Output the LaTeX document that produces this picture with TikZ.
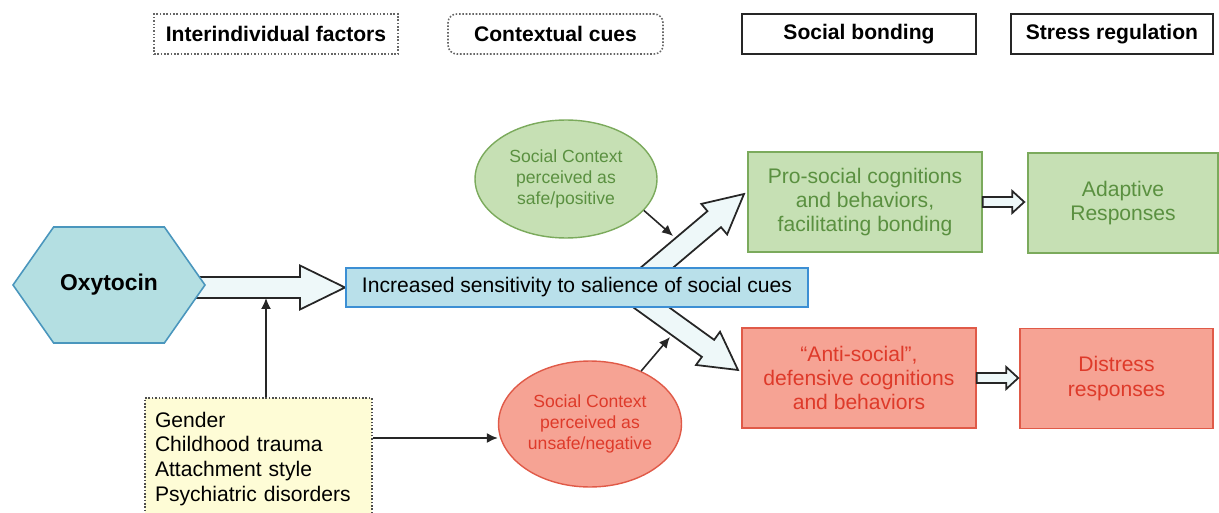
\documentclass[tikz,border=0pt]{standalone}
\usepackage{fontspec}
\setmainfont{Liberation Sans}
\usepackage{tikz}
\usetikzlibrary{positioning, calc, backgrounds, shapes.symbols, shapes.geometric, arrows.meta}

\definecolor{oxyfill}{HTML}{B4DFE2}
\definecolor{oxyline}{HTML}{4A96BD}
\definecolor{cuefill}{HTML}{B9E0EA}
\definecolor{cueline}{HTML}{3C8FD4}
\definecolor{goodfill}{HTML}{C6E0B4}
\definecolor{goodline}{HTML}{7BAA5C}
\definecolor{goodtext}{HTML}{5A9040}
\definecolor{badfill}{HTML}{F6A394}
\definecolor{badline}{HTML}{E05A48}
\definecolor{badtext}{HTML}{DE3A2A}
\definecolor{factfill}{HTML}{FEFCD6}
\definecolor{fatfill}{HTML}{EEF8F9}

\begin{document}
\begin{tikzpicture}[x=0.02cm, y=-0.02cm]
        % Setup the styles
        \tikzset{head style/.style={draw=black!85,
                                    line width=0.9pt,
                                    fill=white,
                                    minimum height=0.8cm,
                                    font=\fontsize{12}{14}\selectfont\bfseries}}
        \tikzset{head style2/.style={head style,
                                    draw=black!60,
                                    densely dotted}}
        \tikzset{box style/.style={draw=goodline,
                                    line width=0.9pt,
                                    fill=goodfill,
                                    text=goodtext,
                                    align=center,
                                    minimum height=2cm,
                                    font=\fontsize{12}{13.9}\selectfont}}
        \tikzset{box style2/.style={box style,
                                    draw=badline,
                                    fill=badfill,
                                    text=badtext}}
        \tikzset{ellipse style/.style={ellipse,
                                    draw=goodline,
                                    line width=0.8pt,
                                    fill=goodfill,
                                    text=goodtext,
                                    align=center,
                                    inner sep=0pt,
                                    font=\fontsize{10}{12.2}\selectfont}}
        \tikzset{ellipse style2/.style={ellipse style,
                                    draw=badline,
                                    fill=badfill,
                                    text=badtext}}
        \tikzset{link/.style={draw=black!85,
                                    line width=0.9pt,
                                    -{Latex[length=2.2mm, width=2mm]}}}
        \tikzset{fat arrow/.style n args={3}{draw=black!85,
                                    line width=1pt,
                                    line join=miter,
                                    fill=fatfill,
                                    to path={($(\tikztostart)!#1!90:(\tikztotarget)$)
                                    -- ($($(\tikztotarget)!#3!(\tikztostart)$)!#1!-90:(\tikztostart)$)
                                    -- ($($(\tikztotarget)!#3!(\tikztostart)$)!#2!-90:(\tikztostart)$)
                                    -- (\tikztotarget)
                                    -- ($($(\tikztotarget)!#3!(\tikztostart)$)!#2!90:(\tikztostart)$)
                                    -- ($($(\tikztotarget)!#3!(\tikztostart)$)!#1!90:(\tikztostart)$)
                                    -- ($(\tikztostart)!#1!-90:(\tikztotarget)$) -- cycle}}}

        \path[use as bounding box, clip] (0,0) rectangle (1219,513);

        % Draw the column headers
        \node[head style2, minimum width=4.88cm] at (276,34)    (hfactors) {Interindividual factors};
        \node[head style2, minimum width=4.3cm, rounded corners=5pt] at (555.5,34) (hcues) {Contextual cues};
        \node[head style, minimum width=4.68cm] at (859,34)     (hbond)    {Social bonding};
        \node[head style, minimum width=4.04cm] at (1112,34)    (hstress)  {Stress regulation};

        % Draw the states
        \node[signal, signal to=west and east, signal pointer angle=110,
              draw=oxyline, line width=0.9pt, fill=oxyfill,
              minimum width=3.84cm, minimum height=2.32cm,
              font=\fontsize{13}{15}\selectfont\bfseries] at (109,285) (oxy) {Oxytocin};
        \node[draw=cueline, line width=1.2pt, fill=cuefill,
              minimum width=9.24cm, minimum height=0.78cm,
              font=\fontsize{12}{14}\selectfont] at (577,287.5) (sens)
              {Increased sensitivity to salience of social cues};
        \node[draw=black!70, densely dotted, line width=0.9pt, fill=factfill,
              minimum width=4.54cm, minimum height=2.44cm,
              text width=4.14cm, align=left, inner xsep=0.2cm,
              font=\fontsize{12}{14.2}\selectfont] at (258.5,459) (factors)
              {Gender\\Childhood trauma\\Attachment style\\Psychiatric disorders};
        \node[ellipse style, minimum width=3.64cm, minimum height=2.36cm] at (566,179) (safe)
              {Social Context\\perceived as\\safe/positive};
        \node[ellipse style2, minimum width=3.66cm, minimum height=2.52cm] at (590,424) (unsafe)
              {Social Context\\perceived as\\unsafe/negative};
        \node[box style, minimum width=4.68cm] at (865,202)  (pro)   {Pro-social cognitions\\and behaviors,\\facilitating bonding};
        \node[box style, minimum width=3.8cm]  at (1123,203) (adapt) {Adaptive\\Responses};
        \node[box style2, minimum width=4.68cm] at (859,378) (anti)  {“Anti-social”,\\defensive cognitions\\and behaviors};
        \node[box style2, minimum width=3.86cm] at (1116.5,378.5) (distress) {Distress\\responses};

        % Connect the states with arrows
        \coordinate (upTail)   at (634,287);
        \coordinate (upTip)    at (744,194);
        \coordinate (downTail) at (623,287);
        \coordinate (downTip)  at (738,370);
        \begin{scope}[on background layer]
            \draw[fat arrow={0.21cm}{0.44cm}{0.9cm}] (oxy.center |- sens.west) to (sens.west);
            \draw[fat arrow={0.21cm}{0.4cm}{0.78cm}] (upTail) to (upTip);
            \draw[fat arrow={0.21cm}{0.41cm}{0.74cm}] (downTail) to (downTip);
        \end{scope}
        \draw[fat arrow={0.1cm}{0.22cm}{0.24cm}] (pro.east) to ([xshift=-0.06cm]pro.east -| adapt.west);
        \draw[fat arrow={0.1cm}{0.22cm}{0.24cm}] (anti.east) to ([xshift=-0.02cm]anti.east -| distress.west);

        \coordinate (modTip)  at (266,298);
        \coordinate (safeTip) at (673,236);
        \coordinate (unsafeTip) at (670,337);
        \draw[link] (modTip |- factors.north) -- (modTip);
        \draw[link] (factors.east |- 0,438) -- (unsafe.west |- 0,438);
        \draw[link] (safe.-22) -- (safeTip);
        \draw[link] (unsafe.46) -- (unsafeTip);
\end{tikzpicture}
\end{document}
